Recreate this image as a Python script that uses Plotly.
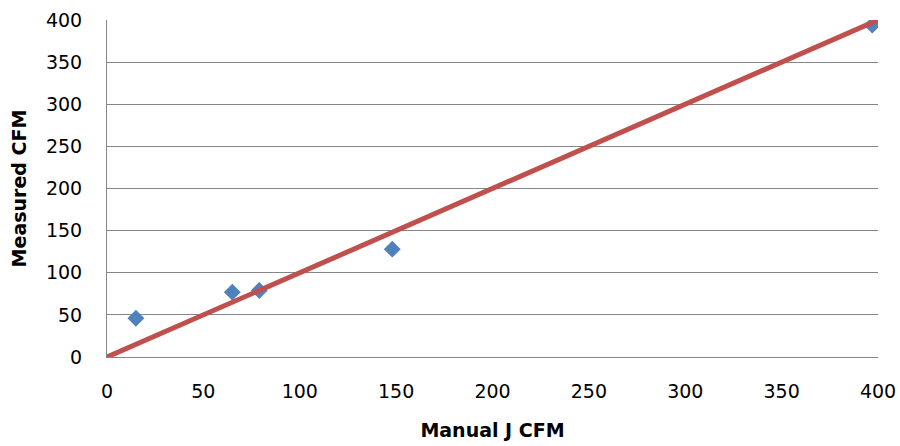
import plotly.graph_objects as go

# Manual J design airflow vs. measured airflow (CFM)
manual_j_cfm = [15, 65, 79, 148, 397]
measured_cfm = [46, 77, 79, 128, 394]

# 1:1 reference line
ref_x = [0, 400]
ref_y = [0, 400]

tick_vals = [0, 50, 100, 150, 200, 250, 300, 350, 400]

fig = go.Figure()

fig.add_trace(go.Scatter(
    x=manual_j_cfm, y=measured_cfm, mode="markers",
    marker=dict(symbol="diamond", size=13, color="#4F81BD"),
    showlegend=False,
))

fig.add_trace(go.Scatter(
    x=ref_x, y=ref_y, mode="lines",
    line=dict(color="#C0504D", width=5),
    showlegend=False,
))

tick_font = dict(family="DejaVu Sans", size=19, color="#000000")
title_font = dict(family="DejaVu Sans", size=19, color="#000000")

fig.update_layout(
    width=900, height=446,
    margin=dict(l=107, r=22, t=20, b=89, autoexpand=False),
    paper_bgcolor="white", plot_bgcolor="white",
    xaxis=dict(
        range=[0, 400], tickvals=tick_vals, showgrid=False,
        showline=True, linecolor="#868686", linewidth=1,
        zeroline=False, ticks="", tickfont=tick_font,
        ticklabelstandoff=17, automargin=False,
        title=dict(text="<b>Manual J CFM</b>", font=title_font, standoff=22),
    ),
    yaxis=dict(
        range=[0, 400], tickvals=tick_vals, showgrid=True,
        gridcolor="#868686", gridwidth=1,
        showline=True, linecolor="#868686", linewidth=1,
        zeroline=False, ticks="", tickfont=tick_font,
        ticklabelstandoff=20, automargin=False,
        title=dict(text="<b>Measured CFM</b>", font=title_font, standoff=14),
    ),
)

fig.write_html("out.html")
